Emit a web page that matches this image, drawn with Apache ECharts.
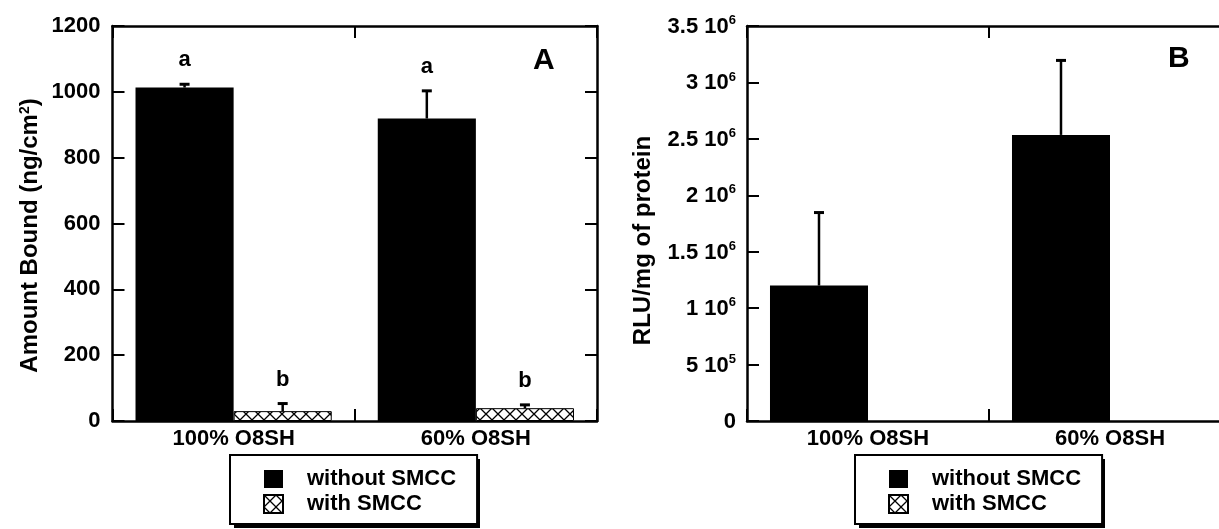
<!DOCTYPE html>
<html><head><meta charset="utf-8">
<script src="https://cdn.jsdelivr.net/npm/echarts@6/dist/echarts.min.js"></script>
<style>html,body{margin:0;padding:0;background:#fff}#c{width:1219px;height:529px}</style>
</head><body><div id="c"></div>
<script>
// ---------- data ----------
const categories = ['100% O8SH', '60% O8SH'];
const seriesNames = ['without SMCC', 'with SMCC'];
// Panel A: Amount Bound (ng/cm2)
const amountWithout = [1013, 919];
const amountWithoutErr = [10, 84];
const amountWith = [30, 39];
const amountWithErr = [23, 10];
const lettersWithout = ['a', 'a'];
const lettersWith = ['b', 'b'];
// Panel B: RLU/mg of protein
const rluWithout = [1200000, 2535000];
const rluWithoutErr = [647000, 660000];
const rluWith = [null, null];
// Panel B tick labels (mantissa, exponent)
const tickMantB = ['0', '5', '1', '1.5', '2', '2.5', '3', '3.5'];
const tickExpB = ['', '5', '6', '6', '6', '6', '6', '6'];

// ---------- styling ----------
const FONT = "'Liberation Sans', Arial, sans-serif";
const GAP = 0.19;
function makePattern() {
  const c = document.createElement('canvas');
  c.width = 12; c.height = 12;
  const g = c.getContext('2d');
  g.fillStyle = '#fff'; g.fillRect(0, 0, 12, 12);
  g.strokeStyle = '#000'; g.lineWidth = 1.3;
  g.beginPath();
  g.moveTo(0, 0); g.lineTo(12, 12);
  g.moveTo(12, 0); g.lineTo(0, 12);
  g.stroke();
  return c;
}
const pattern = { image: makePattern(), repeat: 'repeat' };

function errRenderer(side, letters) {
  return function (params, api) {
    const cat = api.value(0), mean = api.value(1), err = api.value(2);
    if (mean == null || isNaN(mean)) return;
    const base = api.coord([cat, mean]);
    const top = api.coord([cat, mean + err]);
    const band = api.size([1, 0])[0];
    const barW = band * (1 - GAP) / 2;
    const x = base[0] + (side === 0 ? -barW / 2 : barW / 2);
    const children = [
      { type: 'line', shape: { x1: x, y1: base[1], x2: x, y2: top[1] }, style: { stroke: '#000', lineWidth: 2.5 } },
      { type: 'line', shape: { x1: x - 5, y1: top[1], x2: x + 5, y2: top[1] }, style: { stroke: '#000', lineWidth: 3 } }
    ];
    if (letters) {
      children.push({ type: 'text', style: { text: letters[params.dataIndex], x: x, y: top[1] - 24,
        align: 'center', verticalAlign: 'middle', fontSize: 22, fontWeight: 'bold', fontFamily: FONT, fill: '#000' } });
    }
    return { type: 'group', children: children };
  };
}
function errData(means, errs) {
  return means.map((m, i) => [i, m, errs[i]]);
}

const axisLineStyle = { show: true, onZero: false, lineStyle: { color: '#000', width: 2.5 } };
const tickStyle = { show: true, inside: true, length: 12, lineStyle: { color: '#000', width: 2 } };
const labelStyle = { color: '#000', fontSize: 22, fontWeight: 'bold', fontFamily: FONT };

function xAxes(gridIndex) {
  return [
    { type: 'category', gridIndex, position: 'bottom', data: categories,
      axisLine: axisLineStyle, axisTick: tickStyle,
      axisLabel: Object.assign({ margin: 7 }, labelStyle), splitLine: { show: false } },
    { type: 'category', gridIndex, position: 'top', data: categories,
      axisLine: axisLineStyle, axisTick: tickStyle,
      axisLabel: { show: false }, splitLine: { show: false } }
  ];
}

function makeLegend(left) {
  return {
    data: seriesNames, orient: 'vertical', left: left, top: 455, height: 200,
    itemWidth: 19, itemHeight: 18, itemGap: 3,
    padding: [13, 21, 9, 33],
    backgroundColor: '#fff', borderColor: '#000', borderWidth: 2, z: 6,
    icon: 'rect', selectedMode: false,
    formatter: n => '{t|' + n + '}',
    textStyle: { color: '#000', fontSize: 22, fontWeight: 'bold', fontFamily: FONT,
      rich: { t: { padding: [0, 0, 0, 19], fontSize: 22, fontWeight: 'bold', fontFamily: FONT, color: '#000' } } }
  };
}
// drop shadow behind each legend box
function legendShadow(left) {
  return { type: 'rect', left: left + 4, top: 459, z: 1,
    shape: { width: 246, height: 69 }, style: { fill: '#000' } };
}

const option = {
  animation: false,
  backgroundColor: '#fff',
  title: [
    { text: 'A', left: 528, top: 41, textStyle: { fontSize: 30, fontWeight: 'bold', fontFamily: FONT, color: '#000' } },
    { text: 'B', left: 1163, top: 39, textStyle: { fontSize: 30, fontWeight: 'bold', fontFamily: FONT, color: '#000' } }
  ],
  graphic: [legendShadow(230), legendShadow(855)],
  legend: [makeLegend(230), makeLegend(855)],
  grid: [
    { left: 112.5, top: 26, width: 484.5, height: 395, outerBoundsMode: 'none', containLabel: false },
    { left: 747, top: 26, width: 484, height: 395, outerBoundsMode: 'none', containLabel: false }
  ],
  xAxis: xAxes(0).concat(xAxes(1)),
  yAxis: [
    { type: 'value', gridIndex: 0, position: 'left', min: 0, max: 1200, interval: 200,
      axisLine: axisLineStyle, axisTick: tickStyle, splitLine: { show: false },
      axisLabel: Object.assign({ margin: 12, formatter: v => String(v) }, labelStyle),
      name: 'Amount Bound (ng/cm{s|2})', nameLocation: 'middle', nameRotate: 90, nameGap: 70,
      nameTextStyle: { color: '#000', fontSize: 24, fontWeight: 'bold', fontFamily: FONT, padding: [0, 24, 0, 0],
        rich: { s: { fontSize: 14, fontWeight: 'bold', fontFamily: FONT, verticalAlign: 'top', lineHeight: 14, color: '#000' } } } },
    { type: 'value', gridIndex: 0, position: 'right', min: 0, max: 1200, interval: 200,
      axisLine: axisLineStyle, axisTick: tickStyle, splitLine: { show: false },
      axisLabel: { show: false } },
    { type: 'value', gridIndex: 1, position: 'left', min: 0, max: 3500000, interval: 500000,
      axisLine: axisLineStyle, axisTick: tickStyle, splitLine: { show: false },
      axisLabel: { margin: 11, color: '#000',
        formatter: function (v) {
          const i = Math.round(v / 500000);
          return tickExpB[i] ? '{m|' + tickMantB[i] + ' 10}{s|' + tickExpB[i] + '}' : '{m|' + tickMantB[i] + '}';
        },
        rich: {
          m: { fontSize: 22, fontWeight: 'bold', fontFamily: FONT, color: '#000', lineHeight: 24, verticalAlign: 'bottom' },
          s: { fontSize: 13, fontWeight: 'bold', fontFamily: FONT, color: '#000', lineHeight: 13, verticalAlign: 'top' }
        } },
      name: 'RLU/mg of protein', nameLocation: 'middle', nameRotate: 90, nameGap: 92,
      nameTextStyle: { color: '#000', fontSize: 24, fontWeight: 'bold', fontFamily: FONT, padding: [0, 34, 0, 0] } },
    { type: 'value', gridIndex: 1, position: 'right', min: 0, max: 3500000, interval: 500000,
      axisLine: axisLineStyle, axisTick: tickStyle, splitLine: { show: false },
      axisLabel: { show: false } }
  ],
  series: [
    { name: seriesNames[0], type: 'bar', xAxisIndex: 0, yAxisIndex: 0, data: amountWithout,
      barGap: '0%', barCategoryGap: (GAP * 100) + '%', itemStyle: { color: '#000' } },
    { name: seriesNames[1], type: 'bar', xAxisIndex: 0, yAxisIndex: 0, data: amountWith,
      barGap: '0%', barCategoryGap: (GAP * 100) + '%', itemStyle: { color: pattern, borderColor: '#000', borderWidth: 1 } },
    { name: 'errA0', type: 'custom', xAxisIndex: 0, yAxisIndex: 0, z: 5,
      data: errData(amountWithout, amountWithoutErr), renderItem: errRenderer(0, lettersWithout) },
    { name: 'errA1', type: 'custom', xAxisIndex: 0, yAxisIndex: 0, z: 5,
      data: errData(amountWith, amountWithErr), renderItem: errRenderer(1, lettersWith) },
    { name: seriesNames[0], type: 'bar', xAxisIndex: 2, yAxisIndex: 2, data: rluWithout,
      barGap: '0%', barCategoryGap: (GAP * 100) + '%', itemStyle: { color: '#000' } },
    { name: seriesNames[1], type: 'bar', xAxisIndex: 2, yAxisIndex: 2, data: rluWith,
      barGap: '0%', barCategoryGap: (GAP * 100) + '%', itemStyle: { color: pattern, borderColor: '#000', borderWidth: 1 } },
    { name: 'errB0', type: 'custom', xAxisIndex: 2, yAxisIndex: 2, z: 5,
      data: errData(rluWithout, rluWithoutErr), renderItem: errRenderer(0, null) }
  ]
};
const chart = echarts.init(document.getElementById('c'), null, { renderer: 'canvas' });
chart.setOption(option);
</script>
</body></html>
